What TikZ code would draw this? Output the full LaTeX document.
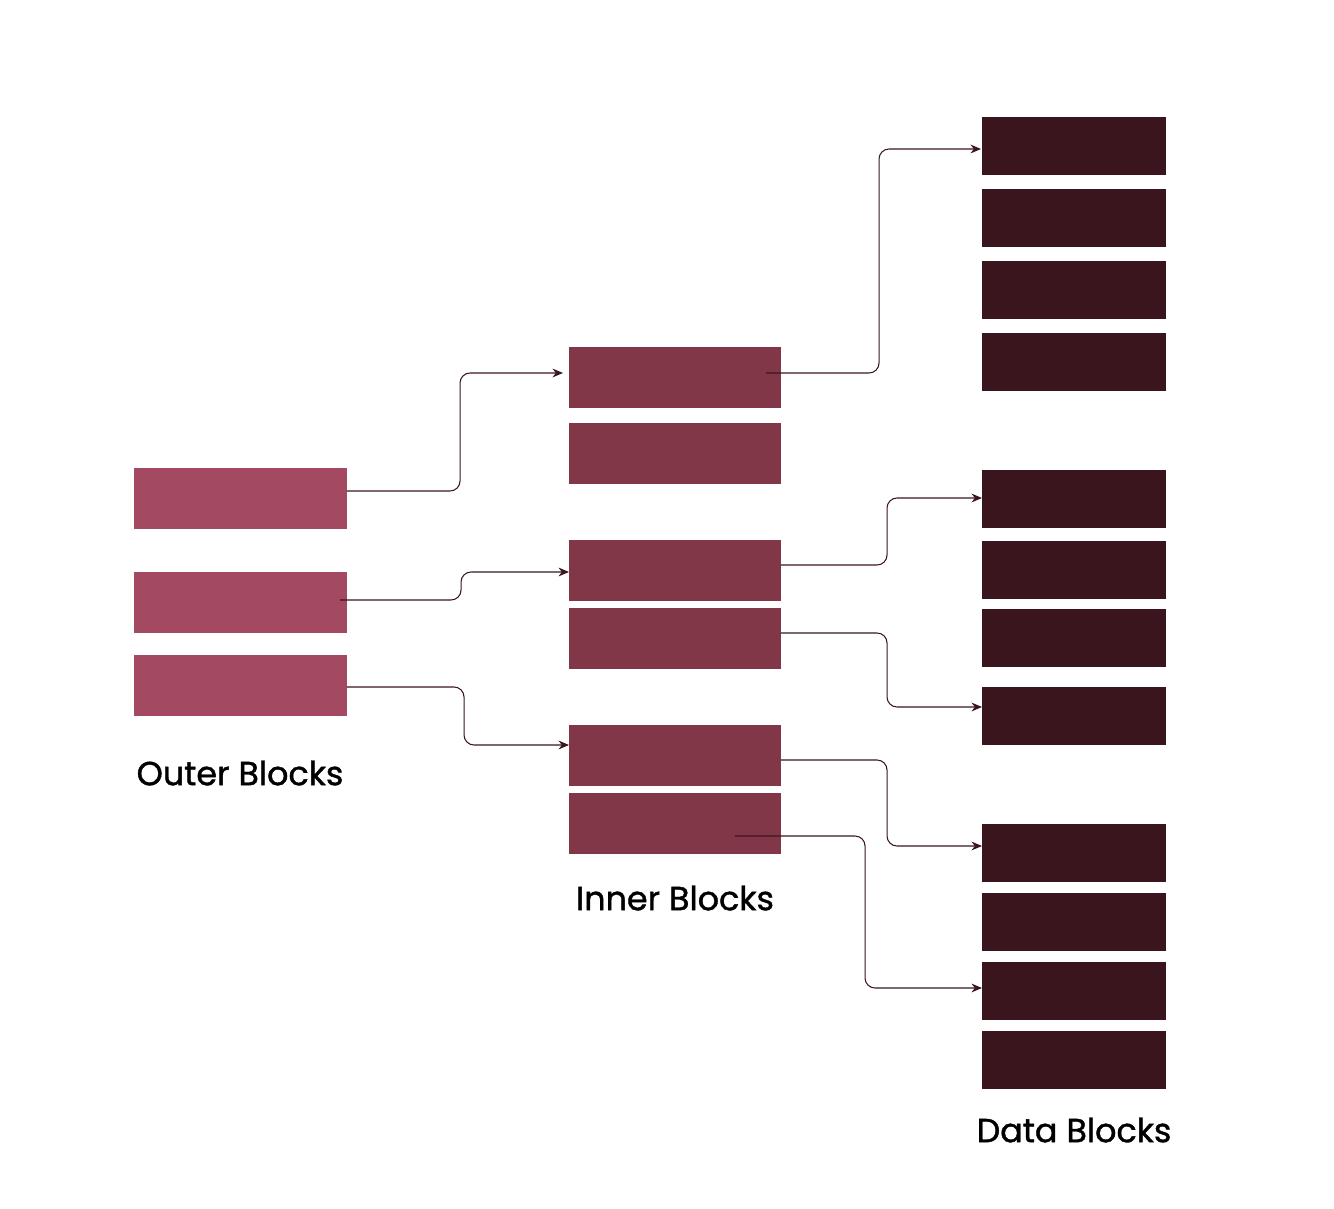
\documentclass[tikz,border=0pt]{standalone}
\usepackage{fontspec}
\setmainfont{Poppins}
\newfontfamily\captionfont{Poppins}[FakeBold=1.2]
\usepackage{tikz}
\usetikzlibrary{calc,arrows.meta}
\definecolor{OuterRed}{HTML}{A34A62}
\definecolor{InnerRed}{HTML}{823749}
\definecolor{DataRed}{HTML}{3A151E}

\begin{document}
\begin{tikzpicture}[x=0.02cm, y=-0.02cm,
  outerblk/.style={fill=OuterRed, inner sep=0, outer sep=0, minimum width=4.26cm, minimum height=1.22cm},
  innerblk/.style={fill=InnerRed, inner sep=0, outer sep=0, minimum width=4.24cm, minimum height=1.22cm},
  datablk/.style={fill=DataRed, inner sep=0, outer sep=0, minimum width=3.68cm, minimum height=1.16cm},
  caption/.style={font=\captionfont\fontsize{19}{22}\selectfont, text=black},
  link/.style={draw=DataRed, line width=0.6pt, rounded corners=0.2cm, -{Stealth[length=6pt, width=5pt]}}]
\useasboundingbox (0,0) rectangle (1334,1209);

% outer blocks
\node[outerblk] (o1) at (240.5,498.5) {};
\node[outerblk] (o2) at (240.5,602.5) {};
\node[outerblk] (o3) at (240.5,685.5) {};
\node[caption] (outerlbl) at (240,773) {Outer Blocks};

% inner blocks
\node[innerblk] (i1) at (675,377.5) {};
\node[innerblk] (i2) at (675,453.5) {};
\node[innerblk] (i3) at (675,570.5) {};
\node[innerblk] (i4) at (675,638) {};
\node[innerblk] (i5) at (675,755) {};
\node[innerblk] (i6) at (675,823) {};
\node[caption] (innerlbl) at (675,898) {Inner Blocks};

% data blocks
\foreach \n/\y in {1/146,2/218,3/290,4/362,5/499,6/570,7/638,8/716,9/853,10/922,11/991,12/1060}
  \node[datablk] (d\n) at (1074,\y) {};
\node[caption] (datalbl) at (1074,1130) {Data Blocks};

% outer -> inner
\draw[link] ($(o1.east)+(0,-7.5)$) -| ($(i1.west)+(-109,-4.5)$) -- ($(i1.west)+(-6,-4.5)$);
\draw[link] ($(o2.east)+(-7,-2.5)$) -| ($(i3.west)+(-108,1.5)$) -- ($(i3.west)+(0,1.5)$);
\draw[link] ($(o3.east)+(0,1.5)$) -| ($(i5.west)+(-105,-10)$) -- ($(i5.west)+(0,-10)$);

% inner -> data
\draw[link] ($(i1.east)+(-15,-4.5)$) -| ($(d1.west)+(-103,3)$) -- ($(d1.west)+(-1,3)$);
\draw[link] ($(i3.east)+(0,-5.5)$) -| ($(d5.west)+(-95,-1)$) -- ($(d5.west)+(0,-1)$);
\draw[link] ($(i4.east)+(0,-5)$) -| ($(d8.west)+(-95,-9)$) -- ($(d8.west)+(0,-9)$);
\draw[link] ($(i5.east)+(0,5)$) -| ($(d9.west)+(-95,-7)$) -- ($(d9.west)+(0,-7)$);
\draw[link] ($(i6.east)+(-46,13)$) -| ($(d11.west)+(-117,-3)$) -- ($(d11.west)+(0,-3)$);
\end{tikzpicture}
\end{document}
